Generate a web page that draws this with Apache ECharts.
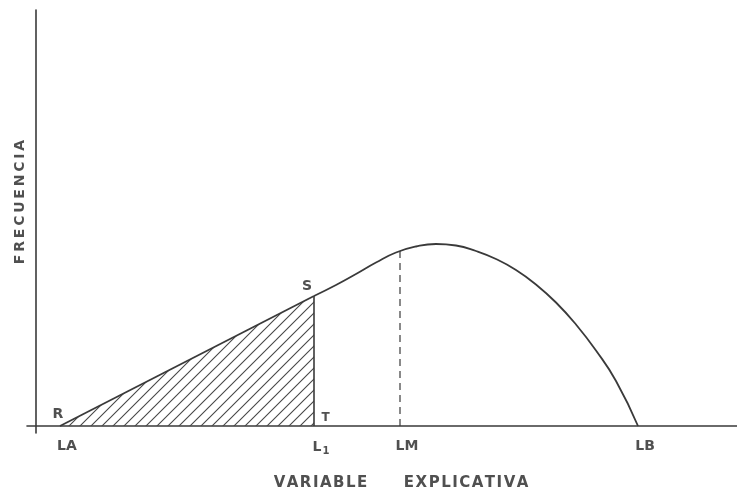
<!DOCTYPE html>
<html>
<head>
<meta charset="utf-8">
<script src="https://cdn.jsdelivr.net/npm/echarts@6/dist/echarts.min.js"></script>
<style>
  html, body { margin: 0; padding: 0; background: #ffffff; }
  #chart { width: 737px; height: 498px; }
</style>
</head>
<body>
<div id="chart"></div>
<script>
// Marked positions along the explanatory variable
const markValues = [24, 278, 364, 602];
const markNames = ['LA', 'L1', 'LM', 'LB'];

// Straight rising stretch R -> S (bounds the hatched area)
const risePoints = [[24, 0], [278, 130]];

// Frequency curve from S over the mode down to LB
const curvePoints = [
  [278, 130], [300, 141], [320, 152], [340, 163.5], [360, 173.5],
  [380, 179.5], [400, 182], [420, 180.5], [440, 175], [460, 167],
  [480, 156], [500, 141.5], [520, 123.5], [540, 101.5], [560, 75.5],
  [580, 45], [602, 0]
];

// Vertical edge S -> T at L1 and dashed guide at LM
const stEdge = [[278, 0], [278, 130]];
const lmGuide = [[364, 0], [364, 175]];

// Lettered points: R, S, T
const pointNames = ['R', 'S', 'T'];
const pointCoords = [risePoints[0], risePoints[1], stEdge[0]];

const ink = '#3a3a3a';
const textInk = '#505050';
const font = 'DejaVu Sans';

// Diagonal hatch tile
const tile = document.createElement('canvas');
tile.width = 11; tile.height = 11;
const tc = tile.getContext('2d');
tc.strokeStyle = '#474747';
tc.lineWidth = 1.1;
tc.beginPath();
tc.moveTo(0, 11); tc.lineTo(11, 0);
tc.moveTo(-6, 6); tc.lineTo(6, -6);
tc.moveTo(5, 17); tc.lineTo(17, 5);
tc.stroke();

const labelPlacement = {
  R: { position: 'top', offset: [-2, 1], fontSize: 14 },
  S: { position: 'top', offset: [-7, 3], fontSize: 14 },
  T: { position: 'right', offset: [2, -8], fontSize: 12 }
};

const chart = echarts.init(document.getElementById('chart'), null, { renderer: 'canvas' });

chart.setOption({
  animation: false,
  backgroundColor: '#ffffff',
  grid: { left: 27, right: 0, top: 10, bottom: 65, containLabel: false },
  xAxis: {
    type: 'value',
    min: -9, max: 701,
    axisLine: { show: true, onZero: true, lineStyle: { color: ink, width: 1.6 } },
    axisTick: { show: false },
    splitLine: { show: false },
    axisLabel: {
      customValues: markValues,
      margin: 6,
      padding: [0, 0, 0, 14],
      color: textInk,
      fontFamily: font,
      fontWeight: 'bold',
      fontSize: 14,
      formatter: function (v) {
        const name = markNames[markValues.indexOf(v)] || '';
        return name === 'L1' ? 'L{sub|1}' : name;
      },
      rich: { sub: { fontSize: 10, fontWeight: 'bold', color: textInk, fontFamily: font, padding: [7, 0, 0, 1] } }
    }
  },
  yAxis: {
    type: 'value',
    min: -7, max: 416,
    axisLine: { show: true, onZero: true, lineStyle: { color: ink, width: 1.6 } },
    axisTick: { show: false },
    axisLabel: { show: false },
    splitLine: { show: false }
  },
  series: [
    {
      type: 'line',
      data: risePoints,
      symbol: 'none',
      lineStyle: { color: ink, width: 1.8 },
      areaStyle: { color: { image: tile, repeat: 'repeat' }, opacity: 1 },
      z: 3
    },
    {
      type: 'line',
      data: curvePoints,
      smooth: 0.5,
      symbol: 'none',
      lineStyle: { color: ink, width: 1.8 },
      z: 3
    },
    {
      type: 'line',
      data: stEdge,
      symbol: 'none',
      lineStyle: { color: ink, width: 1.6 },
      z: 3
    },
    {
      type: 'line',
      data: lmGuide,
      symbol: 'none',
      lineStyle: { color: ink, width: 1.2, type: [7, 5] },
      z: 2
    },
    {
      type: 'scatter',
      symbolSize: 1,
      itemStyle: { color: 'rgba(0,0,0,0)', opacity: 1 },
      silent: true,
      data: pointNames.map(function (n, i) {
        return {
          value: pointCoords[i],
          label: Object.assign({ show: true, formatter: n, color: textInk }, labelPlacement[n])
        };
      }),
      label: { show: true, color: textInk, fontFamily: font, fontWeight: 'bold', fontSize: 14 },
      z: 4
    }
  ],
  graphic: [
    {
      type: 'text',
      x: 20, y: 202,
      rotation: Math.PI / 2,
      style: {
        text: 'F\u2009R\u2009E\u2009C\u2009U\u2009E\u2009N\u2009C\u2009I\u2009A',
        fill: textInk,
        font: 'bold 14px "DejaVu Sans"',
        align: 'center',
        verticalAlign: 'middle'
      }
    },
    {
      type: 'text',
      x: 401, y: 483,
      style: {
        text: 'V\u200aA\u200aR\u200aI\u200aA\u200aB\u200aL\u200aE       E\u200aX\u200aP\u200aL\u200aI\u200aC\u200aA\u200aT\u200aI\u200aV\u200aA',
        fill: textInk,
        font: 'bold 15px "DejaVu Sans"',
        align: 'center',
        verticalAlign: 'middle'
      }
    }
  ]
});
</script>
</body>
</html>
